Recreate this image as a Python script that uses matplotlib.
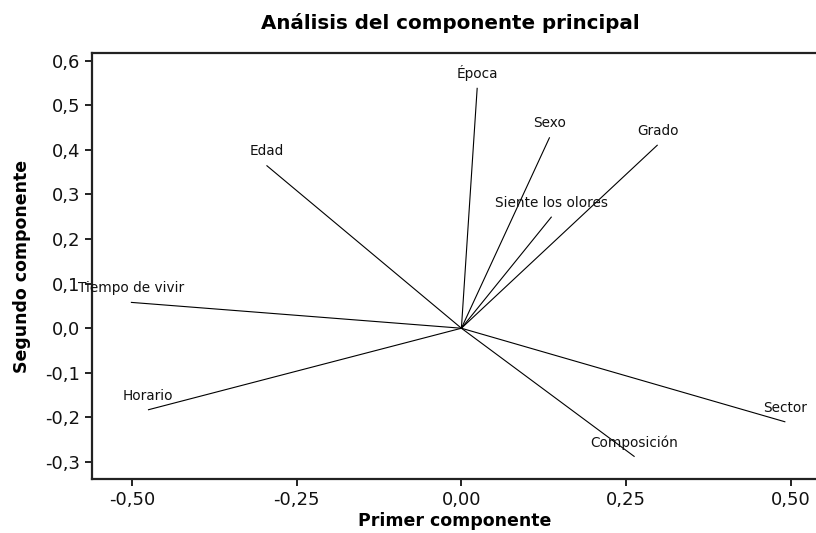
import matplotlib
matplotlib.use("Agg")
import matplotlib.pyplot as plt

variables = ["Época", "Sexo", "Grado", "Siente los olores", "Edad",
             "Tiempo de vivir", "Horario", "Sector", "Composición"]
pc1 = [0.024, 0.134, 0.298, 0.137, -0.296, -0.502, -0.476, 0.492, 0.263]
pc2 = [0.539, 0.428, 0.411, 0.250, 0.365, 0.058, -0.183, -0.210, -0.288]

xticks = [-0.50, -0.25, 0.00, 0.25, 0.50]
xticklabels = ["-0,50", "-0,25", "0,00", "0,25", "0,50"]
yticks = [-0.3, -0.2, -0.1, 0.0, 0.1, 0.2, 0.3, 0.4, 0.5, 0.6]
yticklabels = ["-0,3", "-0,2", "-0,1", "0,0", "0,1", "0,2", "0,3", "0,4", "0,5", "0,6"]

plt.rcParams['font.family'] = ['DejaVu Sans']

fig = plt.figure(figsize=(8.16, 5.33), dpi=100)
ax = fig.add_axes([92/816, 54/533, 1 - 92/816 + 0.002, 426/533])

for name, x, y in zip(variables, pc1, pc2):
    ax.plot([0, x], [0, y], color='black', lw=0.8, solid_capstyle='butt')
    ax.annotate(name, (x, y), xytext=(0, 10), textcoords='offset pixels',
                ha='center', va='baseline', fontsize=9.8, color='#111111')

ax.set_xlim(-0.561, 0.541)
ax.set_ylim(-0.338, 0.617)
ax.set_xticks(xticks)
ax.set_xticklabels(xticklabels)
ax.set_yticks(yticks)
ax.set_yticklabels(yticklabels)
ax.tick_params(direction='out', length=5, width=1.3, labelsize=13, colors='#111111')
for s in ['left', 'bottom', 'top']:
    ax.spines[s].set_linewidth(1.6)
    ax.spines[s].set_color('#222222')
ax.spines['right'].set_visible(False)

ax.set_xlabel("Primer componente", fontsize=12.5, fontweight='bold', labelpad=2)
ax.set_ylabel("Segundo componente", fontsize=12.5, fontweight='bold', labelpad=10)
fig.text(0.5 * (92/816 + 1) - 0.005, 1 - 23/533, "Análisis del componente principal",
         ha='center', va='center', fontsize=14.3, fontweight='bold')

fig.savefig("out.png", dpi=100)
